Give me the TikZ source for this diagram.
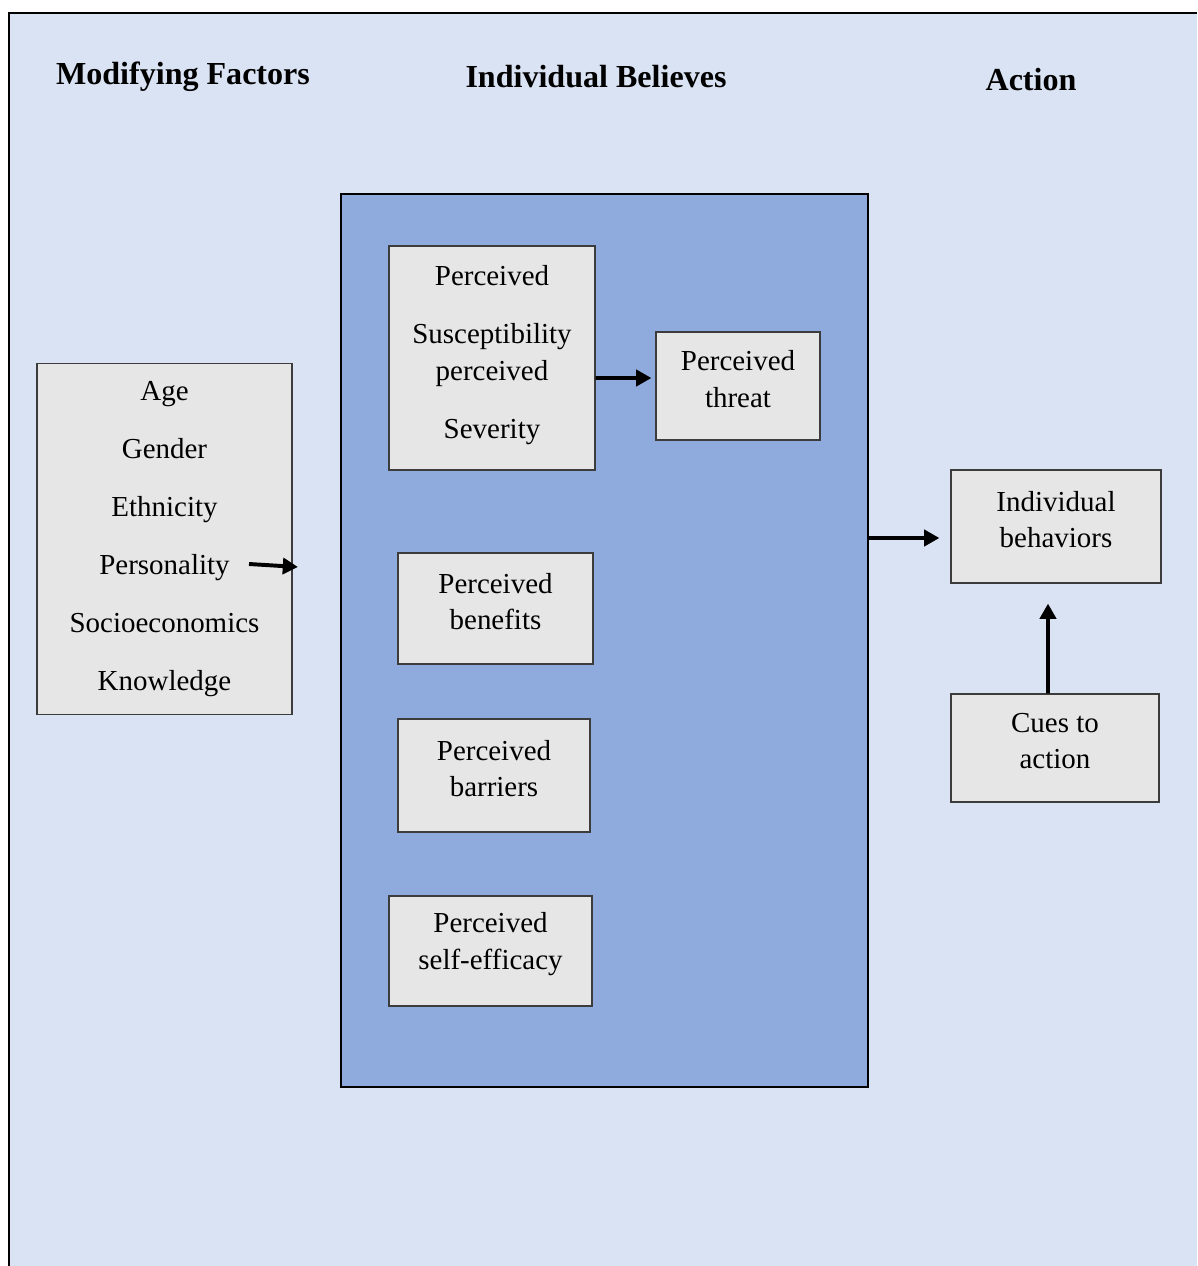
\documentclass[tikz,border=0pt]{standalone}
\usepackage{fontspec}
\setmainfont{Liberation Serif}
\usetikzlibrary{arrows.meta}

\definecolor{bgblue}{RGB}{218,227,243}
\definecolor{panelblue}{RGB}{143,170,220}
\definecolor{boxgray}{RGB}{230,230,230}
\definecolor{edgegray}{RGB}{60,60,60}

\tikzset{
  head/.style={font=\fontsize{22.8pt}{27pt}\selectfont\bfseries, anchor=base, inner sep=0},
  box/.style={draw=edgegray, fill=boxgray, line width=0.8pt, inner sep=0},
  boxtext/.style={align=center, inner sep=0, yshift=0.17cm, font=\fontsize{20.6pt}{26pt}\selectfont},
  arr/.style={line width=2.8pt, -{Triangle[length=0.38cm,width=0.4cm]}}
}

\begin{document}
\begin{tikzpicture}[x=0.025cm, y=-0.025cm]
	\useasboundingbox (0,0) rectangle (1197,1266);
	\fill[white] (0,0) rectangle (1197,1266);
	\fill[bgblue] (9,13) rectangle (1197,1266);
	\draw[line width=1.2pt] (9,1266) |- (1197,13);
	% column heads
	\node[head] (hmod) at (183,85) {Modifying Factors};
	\node[head] (hbel) at (596,88) {Individual Believes};
	\node[head] (hact) at (1031,91) {Action};
	% middle panel
	\node[draw=black, fill=panelblue, line width=1.2pt, inner sep=0,
	  minimum width=13.175cm, minimum height=22.325cm] (panel) at (604.5,640.5) {};
	\node[box, minimum width=6.375cm, minimum height=8.775cm, align=center,
	  font=\fontsize{20.6pt}{41.3pt}\selectfont] (modf) at (164.5,539)
	  {Age\\Gender\\Ethnicity\\Personality\\Socioeconomics\\Knowledge};
	\node[box, minimum width=5.15cm, minimum height=5.6cm,
	  label={[boxtext, yshift=-0.1cm]center:Perceived\\[15.3pt]Susceptibility\\perceived\\[15.3pt]Severity}] (susc) at (492,358) {};
	\node[box, minimum width=4.1cm, minimum height=2.7cm,
	  label={[boxtext]center:Perceived\\threat}] (threat) at (738,386) {};
	\node[box, minimum width=4.875cm, minimum height=2.775cm,
	  label={[boxtext]center:Perceived\\benefits}] (benef) at (495.5,608.5) {};
	\node[box, minimum width=4.8cm, minimum height=2.825cm,
	  label={[boxtext]center:Perceived\\barriers}] (barr) at (494,775.5) {};
	\node[box, minimum width=5.075cm, minimum height=2.75cm,
	  label={[boxtext]center:Perceived\\self-efficacy}] (selfeff) at (490.5,951) {};
	% action side
	\node[box, minimum width=5.25cm, minimum height=2.825cm,
	  label={[boxtext]center:Individual\\behaviors}] (indiv) at (1056,526.5) {};
	\node[box, minimum width=5.2cm, minimum height=2.7cm,
	  label={[boxtext]center:Cues to\\action}] (cues) at (1055,748) {};
	% arrows
	\coordinate (pers) at (249,564);
	\coordinate (persend) at (298,567);
	\draw[arr] (pers) -- (persend);
	\draw[arr, shorten >=0.1cm] ([yshift=-0.5cm]susc.east) -- ([yshift=0.2cm]threat.west);
	\draw[arr, shorten >=0.275cm] ([yshift=2.5625cm]panel.east) -- ([yshift=-0.2875cm]indiv.west);
	\draw[arr, shorten >=0.5cm] ([xshift=-0.175cm]cues.north) -- ([xshift=-0.2cm]indiv.south);
\end{tikzpicture}
\end{document}
